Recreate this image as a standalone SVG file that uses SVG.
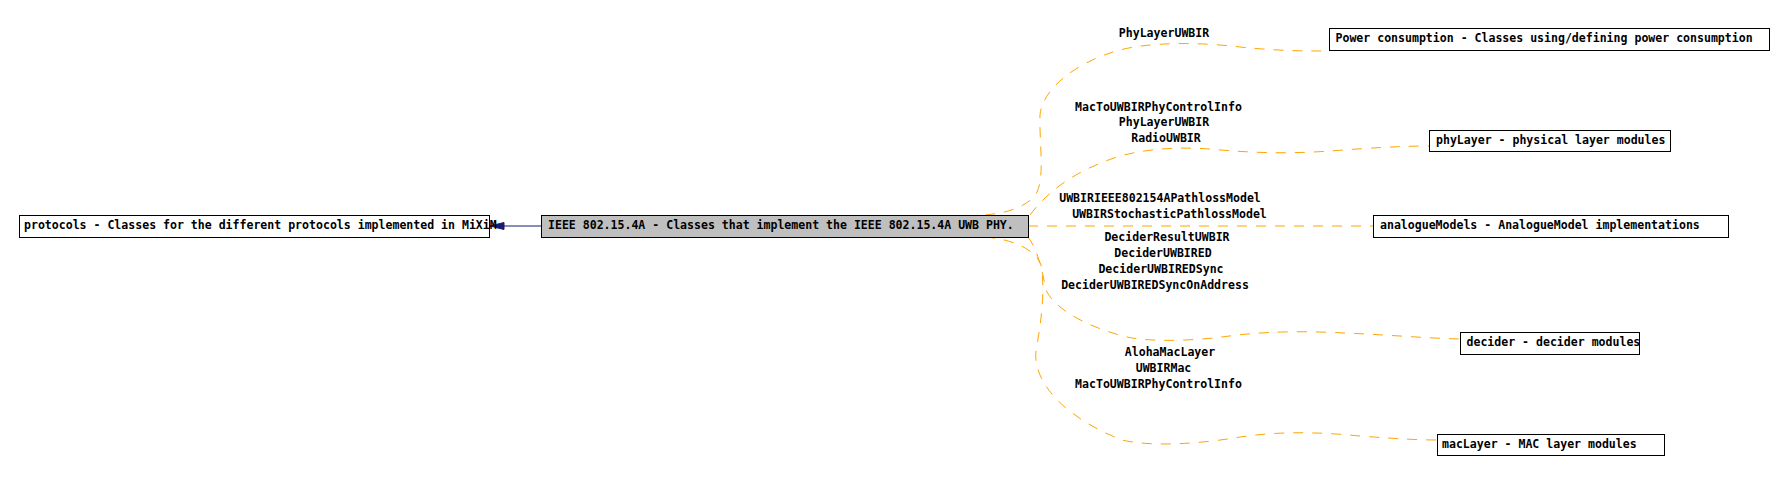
<svg xmlns="http://www.w3.org/2000/svg" width="1785" height="491" viewBox="0 0 1785 491">
<style>
  .box { fill: #ffffff; stroke: #000000; stroke-width: 1; }
  .cur { fill: #bfbfbf; stroke: #000000; stroke-width: 1; }
  .t { font-family: "DejaVu Sans Mono", "Liberation Mono", monospace; font-weight: bold; font-size: 11.55px; fill: #000000; }
  .lbl { text-anchor: middle; }
  .dep { fill: none; stroke: #ffa500; stroke-width: 1; stroke-dasharray: 10,9; }
  .inh { fill: none; stroke: #191970; stroke-width: 1; }
</style>
<rect width="1785" height="491" fill="#ffffff"/>
<g id="connectors">
  <path class="inh" d="M541,226 L503,226"/>
  <polygon points="490,226 504,222.5 504,229.5" fill="#191970" stroke="#191970"/>
  <path class="dep" d="M985,215 C1010,213 1030,205 1037,192 C1045,175 1039,140 1040,115 C1042,90 1075,62 1120,50 C1150,42 1200,42 1240,47 C1280,51 1300,51 1329,51"/>
  <path class="dep" d="M1030,215 C1045,195 1070,172 1120,156 C1150,148 1180,147 1210,149 C1250,153 1290,154 1330,151 C1370,148 1400,146 1429,146"/>
  <path class="dep" d="M1028,226 L1373,226"/>
  <path class="dep" d="M1028,237 C1038,250 1042,270 1046,290 C1055,310 1090,328 1127,337 C1150,342 1190,341 1222,337 C1250,333 1280,331 1320,332 C1380,334 1420,338 1460,339"/>
  <path class="dep" d="M985,237 C1010,239 1035,248 1041,265 C1046,290 1040,330 1036,350 C1032,385 1070,420 1122,440 C1150,447 1200,444 1240,437 C1280,431 1320,432 1360,436 C1400,439 1420,440 1437,440"/>
  <g id="edge-labels">
    <text class="t lbl" x="1164" y="37.3">PhyLayerUWBIR</text>
    <text class="t lbl" x="1158.5" y="110.7">MacToUWBIRPhyControlInfo</text>
    <text class="t lbl" x="1164" y="126.3">PhyLayerUWBIR</text>
    <text class="t lbl" x="1166" y="142.3">RadioUWBIR</text>
    <text class="t lbl" x="1160" y="201.7">UWBIRIEEE802154APathlossModel</text>
    <text class="t lbl" x="1169.5" y="218">UWBIRStochasticPathlossModel</text>
    <text class="t lbl" x="1167" y="241.3">DeciderResultUWBIR</text>
    <text class="t lbl" x="1163" y="257.3">DeciderUWBIRED</text>
    <text class="t lbl" x="1161" y="273.3">DeciderUWBIREDSync</text>
    <text class="t lbl" x="1155" y="289.3">DeciderUWBIREDSyncOnAddress</text>
    <text class="t lbl" x="1170" y="356.3">AlohaMacLayer</text>
    <text class="t lbl" x="1163.5" y="372.3">UWBIRMac</text>
    <text class="t lbl" x="1158.5" y="388.3">MacToUWBIRPhyControlInfo</text>
  </g>
</g>
<g id="node-protocols">
  <rect class="box" x="19.5" y="215.5" width="470" height="22"/>
  <text class="t" x="24" y="229">protocols - Classes for the different protocols implemented in MiXiM</text>
</g>
<g id="node-ieee">
  <rect class="cur" x="541.5" y="215.5" width="487" height="22"/>
  <text class="t" x="548" y="229">IEEE 802.15.4A - Classes that implement the IEEE 802.15.4A UWB PHY.</text>
</g>
<g id="node-power">
  <rect class="box" x="1329.5" y="28.5" width="440" height="22"/>
  <text class="t" x="1335.5" y="42">Power consumption - Classes using/defining power consumption</text>
</g>
<g id="node-phylayer">
  <rect class="box" x="1429.5" y="130.5" width="241" height="21"/>
  <text class="t" x="1436" y="144">phyLayer - physical layer modules</text>
</g>
<g id="node-analoguemodels">
  <rect class="box" x="1373.5" y="215.5" width="355" height="22"/>
  <text class="t" x="1380" y="229">analogueModels - AnalogueModel implementations</text>
</g>
<g id="node-decider">
  <rect class="box" x="1460.5" y="332.5" width="179" height="22"/>
  <text class="t" x="1466.5" y="346">decider - decider modules</text>
</g>
<g id="node-maclayer">
  <rect class="box" x="1437.5" y="434.5" width="227" height="21"/>
  <text class="t" x="1442" y="448">macLayer - MAC layer modules</text>
</g>
</svg>
